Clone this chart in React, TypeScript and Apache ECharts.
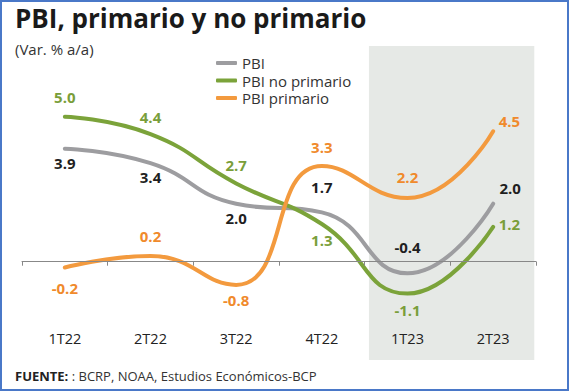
import React, { useEffect, useRef } from "react";
import * as echarts from "echarts";

const categories = ["1T22", "2T22", "3T22", "4T22", "1T23", "2T23"];
const pbi = [3.9, 3.4, 2.0, 1.7, -0.4, 2.0];
const pbiNoPrimario = [5.0, 4.4, 2.7, 1.3, -1.1, 1.2];
const pbiPrimario = [-0.2, 0.2, -0.8, 3.3, 2.2, 4.5];
const highlightStart = "1T23";
const yMin = -3.39;
const yMax = 7.44;

const GRAY = "#9d9da0";
const GREEN = "#7ba33a";
const ORANGE = "#f39a3e";
const FONT = "'Open Sans', sans-serif";

type LP = { pos: string; d: number; off?: [number, number] };

const pbiLabels: LP[] = [
  { pos: "bottom", d: 6 },
  { pos: "bottom", d: 6 },
  { pos: "bottom", d: 6 },
  { pos: "top", d: 17 },
  { pos: "top", d: 18 },
  { pos: "top", d: 8, off: [17, 0] },
];
const noPrimLabels: LP[] = [
  { pos: "top", d: 12 },
  { pos: "top", d: 9.5 },
  { pos: "top", d: 10.5 },
  { pos: "bottom", d: 8 },
  { pos: "bottom", d: 8.5 },
  { pos: "right", d: 5, off: [0, -3] },
];
const primLabels: LP[] = [
  { pos: "bottom", d: 12 },
  { pos: "top", d: 11.5 },
  { pos: "bottom", d: 7.5 },
  { pos: "top", d: 11.5 },
  { pos: "top", d: 13 },
  { pos: "right", d: 5, off: [0, -10] },
];

function build(values: number[], labels: LP[], textColor: string) {
  return values.map((v, i) => ({
    value: v,
    label: {
      position: labels[i].pos,
      distance: labels[i].d,
      offset: labels[i].off || [0, 0],
      color: textColor,
    },
  }));
}

export default function App() {
  const ref = useRef<HTMLDivElement>(null);
  useEffect(() => {
    if (!ref.current) return;
    const chart = echarts.init(ref.current, undefined, { renderer: "svg" });
    const hs = categories.indexOf(highlightStart);
    const lineSeries = (name: string, data: any[], color: string) => ({
      name,
      type: "line",
      data,
      smooth: 0.5,
      symbol: "circle",
      symbolSize: 1,
      itemStyle: { color },
      lineStyle: { color, width: 4, cap: "round" },
      label: {
        show: true,
        fontFamily: FONT,
        fontWeight: "bold",
        fontSize: 15,
        formatter: (p: any) => Number(p.value).toFixed(1),
      },
      z: 3,
    });
    chart.setOption({
      animation: false,
      title: [
        {
          text: "PBI, primario y no primario",
          left: 15,
          top: 5,
          padding: 0,
          textStyle: { fontFamily: FONT, fontWeight: "bold", fontSize: 26, color: "#1a1a1a" },
        },
        {
          text: "(Var. % a/a)",
          left: 15,
          top: 41,
          padding: 0,
          textStyle: { fontFamily: FONT, fontWeight: "normal", fontSize: 15, color: "#333" },
        },
      ],
      legend: {
        orient: "vertical",
        left: 216,
        top: 55,
        padding: 0,
        itemWidth: 21,
        itemHeight: 4,
        itemGap: 1.5,
        icon: "roundRect",
        textStyle: { fontFamily: FONT, fontSize: 15, color: "#333", lineHeight: 16 },
        data: ["PBI", "PBI no primario", "PBI primario"],
      },
      grid: { left: 22, right: 33, top: 46, bottom: 31, outerBoundsMode: "none", containLabel: false },
      xAxis: [
        {
          type: "category",
          data: categories,
          boundaryGap: true,
          z: 10,
          axisLine: { onZero: true, lineStyle: { color: "#888", width: 1 } },
          axisTick: { show: true, length: 4, lineStyle: { color: "#888" } },
          axisLabel: { margin: -29, fontFamily: FONT, fontSize: 14.5, color: "#222" },
        },
        {
          type: "value",
          min: 0,
          max: categories.length,
          show: false,
        },
      ],
      yAxis: {
        type: "value",
        min: yMin,
        max: yMax,
        show: false,
        splitLine: { show: false },
      },
      series: [
        {
          name: "shade",
          type: "line",
          xAxisIndex: 1,
          data: [],
          silent: true,
          markArea: {
            silent: true,
            itemStyle: { color: "#e6e9e6" },
            data: [
              [
                { xAxis: hs + 0.05, yAxis: yMin },
                { xAxis: categories.length - 0.02, yAxis: yMax },
              ],
            ],
          },
          z: 0,
        },
        lineSeries("PBI", build(pbi, pbiLabels, "#1f1f1f"), GRAY),
        lineSeries("PBI no primario", build(pbiNoPrimario, noPrimLabels, "#7a9e3a"), GREEN),
        lineSeries("PBI primario", build(pbiPrimario, primLabels, "#f08a2c"), ORANGE),
      ],
      graphic: [
        {
          type: "text",
          left: 15,
          top: 369,
          style: {
            text: "{b|FUENTE:} : BCRP, NOAA, Estudios Económicos-BCP",
            fontFamily: FONT,
            fontSize: 13,
            fill: "#333",
            rich: {
              b: { fontFamily: FONT, fontSize: 13, fontWeight: "bold", fill: "#222" },
            },
          },
        },
      ],
    });
    return () => chart.dispose();
  }, []);
  return (
    <div style={{ position: "fixed", left: 0, top: 0, width: 569, height: 391, background: "#fff" }}>
      <div ref={ref} style={{ position: "absolute", left: 0, top: 0, width: 569, height: 391 }} />
      <div
        style={{
          position: "absolute",
          left: 0,
          top: 0,
          width: 569,
          height: 391,
          boxSizing: "border-box",
          border: "2px solid #4a78c8",
          pointerEvents: "none",
        }}
      />
    </div>
  );
}
